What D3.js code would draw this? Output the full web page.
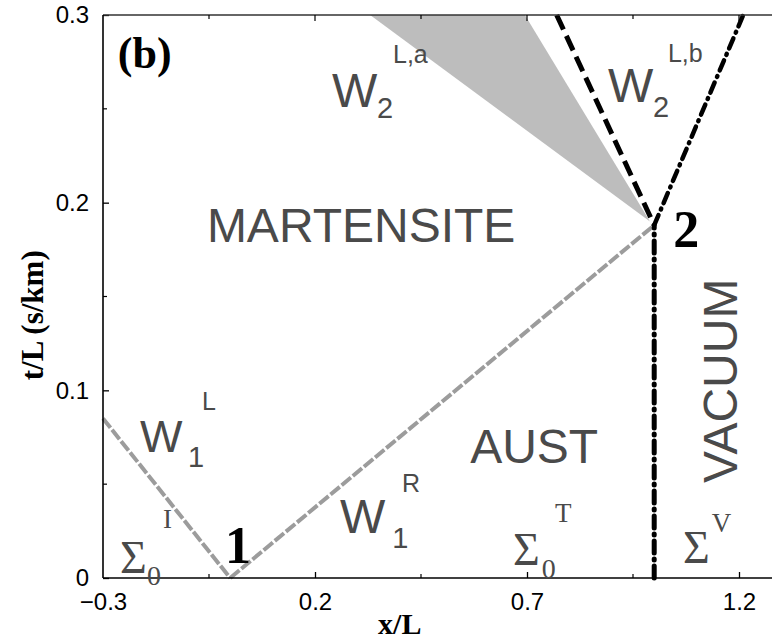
<!DOCTYPE html>
<meta charset="utf-8">
<style>
body { margin: 0; background: #fff; }
.title { font-family: "Liberation Serif", "Times New Roman", serif; font-weight: bold; fill: #000; }
.region { font-family: "Liberation Sans", Arial, sans-serif; fill: #4a4a4a; }
.greek { font-family: "Liberation Serif", "Times New Roman", serif; fill: #4a4a4a; }
.pt { font-family: "Liberation Serif", "Times New Roman", serif; font-weight: bold; fill: #000; }
</style>
<svg width="772" height="643"></svg>
<script src="https://d3js.org/d3.v7.min.js"></script>
<script>

// axis ticks
var xTicks = [-0.3, 0.2, 0.7, 1.2];
var xMinor = [-0.05, 0.45, 0.95];
var yTicks = [0, 0.1, 0.2, 0.3];
var yMinor = [0.05, 0.15, 0.25];

// phase boundaries (x/L, t/L)
var waveIL = [[-0.3, 0.085], [0.0, 0.0]];
var waveR = [[0.0, 0.0], [1.0, 0.188]];
var shockLa = [[0.77, 0.3], [1.0, 0.188]];
var shockLb = [[1.0, 0.188], [1.21, 0.3]];
var vacuumEdge = [[1.0, 0.0], [1.0, 0.188]];
var fan = [[0.33, 0.3], [0.695, 0.3], [0.99, 0.19]];

// labels: [text, x, y, size, class]
var labels = [
  ["MARTENSITE", -0.055, 0.179, 48, "region"],
  ["AUST", 0.566, 0.0613, 48, "region"],
  ["W", 0.240, 0.251, 48, "region"],
  ["2", 0.346, 0.245, 29, "region"],
  ["L,a", 0.384, 0.2744, 25, "region"],
  ["W", 0.891, 0.2536, 48, "region"],
  ["2", 0.997, 0.2456, 29, "region"],
  ["L,b", 1.0325, 0.275, 25, "region"],
  ["W", -0.2127, 0.0671, 45, "region"],
  ["1", -0.0995, 0.0591, 29, "region"],
  ["L", -0.0665, 0.0895, 25, "region"],
  ["W", 0.259, 0.024, 48, "region"],
  ["1", 0.382, 0.016, 29, "region"],
  ["R", 0.405, 0.0458, 25, "region"],
  ["Σ", -0.26, 0.0027, 46, "greek"],
  ["0", -0.196, -0.0037, 28, "greek"],
  ["I", -0.1585, 0.0266, 27, "greek"],
  ["Σ", 0.667, 0.0069, 46, "greek"],
  ["0", 0.735, 0.0, 28, "greek"],
  ["T", 0.766, 0.0298, 27, "greek"],
  ["Σ", 1.068, 0.008, 46, "greek"],
  ["V", 1.136, 0.0245, 27, "greek"],
  ["1", -0.0123, 0.008, 52, "pt"],
  ["2", 1.045, 0.1764, 52, "pt"],
  ["(b)", -0.265, 0.272, 44, "pt"]
];

var svg = d3.select("svg");

var x = d3.scaleLinear().domain([-0.3, 1.3]).range([103, 781.4]);
var y = d3.scaleLinear().domain([0, 0.3]).range([578, 15]);

var line = d3.line().x(function(d) { return x(d[0]); }).y(function(d) { return y(d[1]); });

// shaded fan
svg.append("path")
    .attr("d", line(fan) + "Z")
    .attr("fill", "#bdbdbd");

// gray rarefaction lines
[waveIL, waveR].forEach(function(w) {
  svg.append("path")
      .attr("d", line(w))
      .attr("fill", "none")
      .attr("stroke", "#9c9c9c")
      .attr("stroke-width", 4)
      .attr("stroke-dasharray", "12,2.5");
});

svg.append("path")
    .attr("d", line(shockLa))
    .attr("fill", "none")
    .attr("stroke", "#000")
    .attr("stroke-width", 5)
    .attr("stroke-dasharray", "16,7");

svg.append("path")
    .attr("d", line(shockLb))
    .attr("fill", "none")
    .attr("stroke", "#000")
    .attr("stroke-width", 4.5)
    .attr("stroke-linecap", "round")
    .attr("stroke-dasharray", "11,6,1,6");

svg.append("path")
    .attr("d", line(vacuumEdge))
    .attr("fill", "none")
    .attr("stroke", "#000")
    .attr("stroke-width", 5)
    .attr("stroke-linecap", "round")
    .attr("stroke-dasharray", "12,6,1,6");

// axes
var xAxis = d3.axisBottom(x).tickValues(xTicks).tickSize(-6).tickPadding(15)
    .tickFormat(function(d) { return d < 0 ? "\u2212" + Math.abs(d) : d; });
var gx = svg.append("g").attr("transform", "translate(0,578)").call(xAxis);
gx.selectAll(".tick").filter(function(d) { return d === -0.3; }).select("line").remove();
gx.select(".domain").remove();

var yAxis = d3.axisLeft(y).tickValues(yTicks).tickSize(-6).tickPadding(14)
    .tickFormat(function(d) { return d === 0 ? "0" : d3.format(".1f")(d); });
var gy = svg.append("g").attr("transform", "translate(103,0)").call(yAxis);
gy.select(".domain").remove();

svg.selectAll(".tick line").attr("stroke", "#000").attr("stroke-width", 1.3);
svg.selectAll(".tick text")
    .attr("font-family", "'Liberation Sans', Arial, sans-serif")
    .attr("font-size", 24)
    .attr("fill", "#000");
gy.selectAll(".tick text").attr("dy", "0.32em");

// frame
svg.append("line").attr("x1", x(-0.3)).attr("x2", 772).attr("y1", y(0)).attr("y2", y(0))
    .attr("stroke", "#000").attr("stroke-width", 1.6);
svg.append("line").attr("x1", x(-0.3)).attr("x2", 772).attr("y1", y(0.3)).attr("y2", y(0.3))
    .attr("stroke", "#333").attr("stroke-width", 1.4);
svg.append("line").attr("x1", x(-0.3)).attr("x2", x(-0.3)).attr("y1", y(0)).attr("y2", y(0.3))
    .attr("stroke", "#000").attr("stroke-width", 1.6);

// minor and top ticks
svg.append("g").selectAll("line").data(xMinor).enter().append("line")
    .attr("x1", x).attr("x2", x).attr("y1", y(0)).attr("y2", y(0) - 4)
    .attr("stroke", "#000").attr("stroke-width", 1.2);
svg.append("g").selectAll("line").data(xTicks.slice(1)).enter().append("line")
    .attr("x1", x).attr("x2", x).attr("y1", y(0.3)).attr("y2", y(0.3) + 6)
    .attr("stroke", "#000").attr("stroke-width", 1.2);
svg.append("g").selectAll("line").data(xMinor).enter().append("line")
    .attr("x1", x).attr("x2", x).attr("y1", y(0.3)).attr("y2", y(0.3) + 4)
    .attr("stroke", "#000").attr("stroke-width", 1.2);
svg.append("g").selectAll("line").data(yMinor).enter().append("line")
    .attr("x1", x(-0.3)).attr("x2", x(-0.3) + 4).attr("y1", y).attr("y2", y)
    .attr("stroke", "#000").attr("stroke-width", 1.2);

// axis titles
svg.append("text").attr("class", "title")
    .attr("x", x(0.4)).attr("y", 634)
    .attr("text-anchor", "middle").attr("font-size", 30)
    .text("x/L");
svg.append("text").attr("class", "title")
    .attr("transform", "translate(43," + y(0.14) + ") rotate(-90)")
    .attr("text-anchor", "middle").attr("font-size", 31)
    .text("t/L (s/km)");

// region labels
svg.append("g").selectAll("text").data(labels).enter().append("text")
    .attr("class", function(d) { return d[4]; })
    .attr("x", function(d) { return x(d[1]); })
    .attr("y", function(d) { return y(d[2]); })
    .attr("font-size", function(d) { return d[3]; })
    .text(function(d) { return d[0]; });

svg.append("text").attr("class", "region")
    .attr("transform", "translate(" + x(1.195) + "," + y(0.0506) + ") rotate(-90)")
    .attr("font-size", 48)
    .text("VACUUM");

</script>
